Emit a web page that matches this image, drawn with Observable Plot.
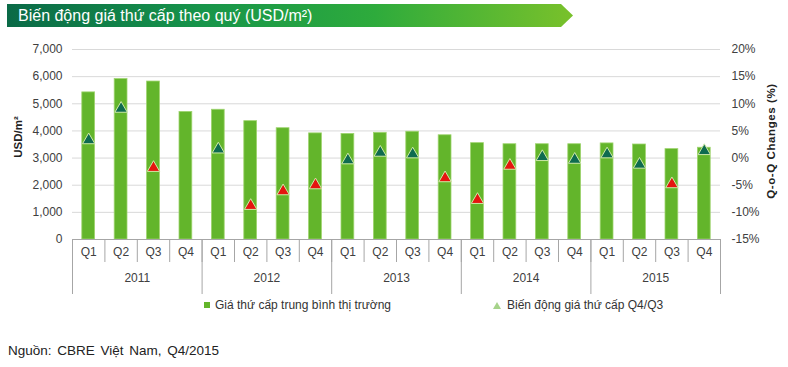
<!DOCTYPE html>
<html>
<head>
<meta charset="utf-8">
<script src="https://cdn.jsdelivr.net/npm/d3@7"></script>
<script src="https://cdn.jsdelivr.net/npm/@observablehq/plot@0.6"></script>
<style>
  html, body { margin: 0; padding: 0; background: #fff; }
  body { width: 788px; height: 367px; overflow: hidden; font-family: "Liberation Sans", Arial, sans-serif; }
  #wrap { position: relative; width: 788px; height: 367px; }
  #banner { position: absolute; left: 7px; top: 4px; width: 566px; height: 23px;
    background: linear-gradient(to right, #0a6a47 0%, #17954a 35%, #2eab3c 65%, #79c12b 100%);
    clip-path: polygon(0 0, calc(100% - 12px) 0, 100% 50%, calc(100% - 12px) 100%, 0 100%);
    color: #fff; font-size: 16px; line-height: 23px; padding-left: 11px; box-sizing: border-box; }
  #chart { position: absolute; left: 0; top: 35px; }
  .ytitle { position: absolute; font-weight: bold; font-size: 11.5px; color: #222; white-space: nowrap; }
  #ylab { left: 18px; top: 137px; transform: translate(-50%, -50%) rotate(-90deg); }
  #y2lab { left: 771px; top: 141px; transform: translate(-50%, -50%) rotate(-90deg); letter-spacing: 0.6px; }
  .leg { position: absolute; top: 298px; font-size: 12px; color: #333; white-space: nowrap; line-height: 14px; }
  .sq { display: inline-block; width: 6px; height: 6px; background: #63b52b; margin-right: 5px; vertical-align: 1px; }
  .tri { display: inline-block; width: 0; height: 0; border-left: 4px solid transparent; border-right: 4px solid transparent; border-bottom: 7px solid #a6d38a; margin-right: 6px; vertical-align: 0px; }
  #footer { position: absolute; left: 8px; top: 343px; font-size: 13.5px; word-spacing: 2px; color: #222; white-space: nowrap; }
</style>
</head>
<body>
<div id="wrap">
  <div id="banner">Biến động giá thứ cấp theo quý (USD/m²)</div>
  <div id="chart"></div>
  <div class="ytitle" id="ylab">USD/m²</div>
  <div class="ytitle" id="y2lab">Q-o-Q Changes (%)</div>
  <div class="leg" style="left:204px"><span class="sq"></span>Giá thứ cấp trung bình thị trường</div>
  <div class="leg" style="left:493px"><span class="tri"></span>Biến động giá thứ cấp Q4/Q3</div>
  <div id="footer">Nguồn: CBRE Việt Nam, Q4/2015</div>
</div>
<script>
// ---- data ----
const years = ["2011", "2012", "2013", "2014", "2015"];
const quarters = ["Q1", "Q2", "Q3", "Q4"];
const prices = [5420, 5910, 5820, 4700, 4780, 4360, 4100, 3910, 3890, 3930,
                3970, 3840, 3550, 3510, 3510, 3510, 3540, 3500, 3330, 3380];
const changes = [3.3, 9.1, -1.8, null, 1.6, -8.8, -6.1, -5.0, -0.4, 1.0,
                 0.7, -3.7, -7.7, -1.4, 0.2, -0.3, 0.7, -1.2, -4.8, 1.3];
const directions = ["tăng", "tăng", "giảm", null, "tăng", "giảm", "giảm", "giảm", "tăng", "tăng",
                    "tăng", "giảm", "giảm", "giảm", "tăng", "tăng", "tăng", "tăng", "giảm", "tăng"];
const priceTicks = [0, 1000, 2000, 3000, 4000, 5000, 6000, 7000];
const pctTicks = [-15, -10, -5, 0, 5, 10, 15, 20];

// ---- build table ----
const rows = prices.map((p, i) => ({
  i,
  year: years[Math.floor(i / quarters.length)],
  quarter: quarters[i % quarters.length],
  price: p,
  change: changes[i],
  dir: directions[i]
}));
const n = rows.length;
const pct = d3.scaleLinear([pctTicks[0], pctTicks[pctTicks.length - 1]],
                           [priceTicks[0], priceTicks[priceTicks.length - 1]]);

const axisStroke = "#a6a6a6";
const chart = Plot.plot({
  width: 788,
  height: 265,
  marginTop: 14,
  marginBottom: 61,
  marginLeft: 72,
  marginRight: 68,
  style: { fontFamily: "Liberation Sans, Arial, sans-serif", fontSize: "12px", color: "#404040", background: "transparent" },
  x: { type: "linear", domain: [0, n] },
  y: { domain: [priceTicks[0], priceTicks[priceTicks.length - 1]] },
  color: { domain: ["tăng", "giảm"], range: ["#0e6b50", "#e5150f"] },
  marks: [
    Plot.ruleY(priceTicks.filter(t => t > 0), { stroke: "#d9d9d9" }),
    Plot.rectY(rows, {
      x1: "i", x2: d => d.i + 1, y: "price",
      fill: "#63b52b", stroke: "#9fd46f", strokeWidth: 0.8,
      insetLeft: 9.8, insetRight: 9.8
    }),
    Plot.dot(rows.filter(d => d.change != null), {
      x: d => d.i + 0.5, y: d => pct(d.change),
      symbol: "triangle", r: 4.6, fill: "dir", stroke: "#cfe9a8", strokeWidth: 1
    }),
    Plot.ruleY([0], { stroke: axisStroke }),
    Plot.axisY({ ticks: priceTicks, tickSize: 0, tickPadding: 10, tickFormat: d3.format(","), label: null }),
    Plot.axisY({ anchor: "right", ticks: pctTicks.map(p => pct(p)), tickSize: 0, tickPadding: 11,
                 tickFormat: v => Math.round(pct.invert(v)) + "%", label: null }),
    Plot.axisX({ ticks: d3.range(n + 1), tickSize: 23, stroke: axisStroke, tickFormat: () => "", label: null }),
    Plot.axisX({ ticks: d3.range(0, n + 1, quarters.length), tickSize: 55, stroke: axisStroke, tickFormat: () => "", label: null }),
    Plot.axisX({ ticks: rows.map(d => d.i + 0.5), tickSize: 0, tickPadding: 8,
                 tickFormat: v => rows[Math.floor(v)].quarter, label: null }),
    Plot.axisX({ ticks: years.map((y, k) => k * quarters.length + quarters.length / 2), tickSize: 0, tickPadding: 34,
                 tickFormat: v => years[Math.round((v - quarters.length / 2) / quarters.length)], label: null })
  ]
});
document.getElementById("chart").appendChild(chart);
</script>
</body>
</html>
